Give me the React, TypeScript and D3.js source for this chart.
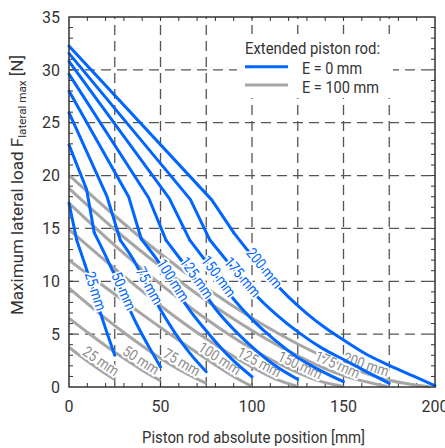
import * as d3 from "d3";

const WIDTH = 445;
const HEIGHT = 448;
const MARGIN = { top: 17, right: 10, bottom: 61, left: 69 };
const BLUE = "#0066ff";
const GRAY = "#a6a6a6";
const INK = "#333333";
const FONT = "Roboto, 'Liberation Sans', sans-serif";

type Pt = [number, number];

const STROKE_LABELS = ["25 mm", "50 mm", "75 mm", "100 mm", "125 mm", "150 mm", "175 mm", "200 mm"];

// E = 0 mm (blue): start, two kinks, then the falling curve
const BLUE_25: Pt[] = [[0, 17.4], [4.2, 13.9], [8.7, 11.6], [13, 9.3], [17, 7.1], [21, 5.0], [25, 3.0]];
const BLUE_50: Pt[] = [[0, 22.9], [9.6, 18.7], [13.8, 14.6], [20.6, 12.2], [27, 9.8], [33, 7.4], [38, 5.6], [44, 3.7], [50, 1.9]];
const BLUE_75: Pt[] = [[0, 25.95], [20.8, 18.0], [28, 13.9], [35, 12.1], [42, 9.8], [50, 7.3], [58, 5.1], [66, 3.2], [75, 1.45]];
const BLUE_100: Pt[] = [[0, 28.0], [32.6, 18.0], [39.5, 14.0], [47, 12.3], [55, 10.3], [65, 7.5], [77, 4.9], [88, 2.8], [100, 0.97]];
const BLUE_125: Pt[] = [[0, 29.6], [43.5, 17.9], [53, 13.9], [60, 12.3], [68, 10.5], [80, 7.4], [92, 5.1], [100, 3.8], [112, 2.1], [125, 0.72]];
const BLUE_150: Pt[] = [[0, 30.8], [54.8, 17.85], [66, 13.9], [73, 12.3], [80, 10.6], [90, 8.3], [100, 6.4], [112, 4.5], [125, 2.8], [137, 1.6], [150, 0.5]];
const BLUE_175: Pt[] = [[0, 31.56], [66.3, 17.75], [77, 13.9], [85, 12.2], [93, 10.5], [101, 8.9], [113, 6.9], [126, 5.1], [138, 3.7], [150, 2.6], [162, 1.5], [175, 0.35]];
const BLUE_200: Pt[] = [[0, 32.26], [78, 17.7], [90, 14.6], [100, 12.4], [110, 10.3], [120, 8.5], [130, 6.95], [140, 5.6], [150, 4.45], [162, 3.15], [175, 2.05], [188, 1.05], [200, 0.13]];

// E = 100 mm (gray)
const GRAY_25: Pt[] = [[0, 3.76], [5, 3.09], [10, 2.45], [15, 1.84], [20, 1.26], [25, 0.72]];
const GRAY_50: Pt[] = [[0, 6.5], [10, 5.18], [20, 3.91], [30, 2.71], [40, 1.59], [50, 0.6]];
const GRAY_75: Pt[] = [[0, 9.35], [15, 7.18], [30, 5.15], [45, 3.29], [60, 1.66], [75, 0.35]];
const GRAY_100: Pt[] = [[0, 12.0], [20, 9.41], [40, 6.87], [60, 4.42], [80, 2.09], [90, 1.0], [100, 0.05]];
const GRAY_125: Pt[] = [[0, 14.9], [25, 11.2], [50, 7.69], [75, 4.56], [100, 1.88], [112, 0.82], [125, 0.05]];
const GRAY_150: Pt[] = [[0, 17.4], [25, 13.4], [50, 9.73], [75, 6.43], [100, 3.6], [125, 1.36], [137, 0.55], [150, 0.05]];
const GRAY_175: Pt[] = [[0, 18.8], [25, 14.9], [50, 11.4], [75, 8.18], [100, 5.34], [125, 2.94], [150, 1.07], [174, 0.05]];
const GRAY_200: Pt[] = [[0, 20.05], [25, 16.2], [50, 12.6], [75, 9.37], [100, 6.52], [125, 4.07], [150, 2.07], [175, 0.64], [197, 0.02]];

const BLUE_CURVES = [BLUE_25, BLUE_50, BLUE_75, BLUE_100, BLUE_125, BLUE_150, BLUE_175, BLUE_200];
const GRAY_CURVES = [GRAY_25, GRAY_50, GRAY_75, GRAY_100, GRAY_125, GRAY_150, GRAY_175, GRAY_200];

// where the in-line labels sit (x position along each curve)
const BLUE_LABEL_X = [13.5, 29, 43, 56, 69, 81, 94, 106];
const GRAY_LABEL_X = [15, 37, 59.5, 80, 102, 124.5, 145, 161];

const X_TICKS = [0, 50, 100, 150, 200];
const Y_TICKS = [0, 5, 10, 15, 20, 25, 30, 35];
const X_GRID = [25, 50, 75, 100, 125, 150, 175];
const Y_GRID = [5, 10, 15, 20, 25, 30];

const x = d3.scaleLinear().domain([0, 200]).range([MARGIN.left, WIDTH - MARGIN.right]);
const y = d3.scaleLinear().domain([0, 35]).range([HEIGHT - MARGIN.bottom, MARGIN.top]);

const X_MINOR = d3.range(10, 200, 10);
const Y_MINOR = d3.range(1, 35, 1);

const straight = d3.line<Pt>().x((d) => x(d[0])).y((d) => y(d[1])).curve(d3.curveLinear);
const smooth = d3.line<Pt>().x((d) => x(d[0])).y((d) => y(d[1])).curve(d3.curveMonotoneX);

function yAt(pts: Pt[], xv: number) {
  for (let i = 1; i < pts.length; i++) {
    if (xv <= pts[i][0]) {
      const [x0, y0] = pts[i - 1];
      const [x1, y1] = pts[i];
      return y0 + ((y1 - y0) * (xv - x0)) / (x1 - x0);
    }
  }
  return pts[pts.length - 1][1];
}

function labelPose(pts: Pt[], xv: number, offset: number) {
  const a = xv - 3;
  const b = xv + 3;
  const ang = Math.atan2(y(yAt(pts, b)) - y(yAt(pts, a)), x(b) - x(a));
  const cx = x(xv);
  const cy = y(yAt(pts, xv));
  return {
    tx: cx + Math.sin(ang) * offset,
    ty: cy - Math.cos(ang) * offset,
    deg: (ang * 180) / Math.PI,
  };
}

function CurveLabel({ pts, at, text, color, offset }: { pts: Pt[]; at: number; text: string; color: string; offset: number }) {
  const p = labelPose(pts, at, offset);
  return (
    <text
      transform={`translate(${p.tx},${p.ty}) rotate(${p.deg}) scale(0.85,1)`}
      textAnchor="middle"
      dominantBaseline="central"
      fontSize={15}
      fill={color}
      stroke="white"
      strokeWidth={4}
      paintOrder="stroke"
      strokeLinejoin="round"
    >
      {text}
    </text>
  );
}

export default function App() {
  const x0 = x(0);
  const x1 = x(200);
  const y0 = y(0);
  const y1 = y(35);

  return (
    <svg width={WIDTH} height={HEIGHT} style={{ position: "absolute", left: 0, top: 0, background: "white" }} fontFamily={FONT}>
      {/* grid */}
      <g stroke="#555555" strokeWidth={1.3} strokeDasharray="10,6">
        {X_GRID.map((v) => (
          <line key={"gx" + v} x1={x(v)} x2={x(v)} y1={y0} y2={y1} />
        ))}
        {Y_GRID.map((v) => (
          <line key={"gy" + v} x1={x0} x2={x1} y1={y(v)} y2={y(v)} />
        ))}
      </g>

      {/* legend background */}
      <rect x={237} y={34} width={156} height={64} fill="white" />

      {/* minor ticks on all sides */}
      <g stroke={INK} strokeWidth={1}>
        {X_MINOR.map((v) => (
          <g key={"mx" + v}>
            <line x1={x(v)} x2={x(v)} y1={y0} y2={y0 - 4} />
            <line x1={x(v)} x2={x(v)} y1={y1} y2={y1 + 4} />
          </g>
        ))}
        {Y_MINOR.map((v) => (
          <g key={"my" + v}>
            <line x1={x0} x2={x0 + 4} y1={y(v)} y2={y(v)} />
            <line x1={x1} x2={x1 - 4} y1={y(v)} y2={y(v)} />
          </g>
        ))}
      </g>

      {/* E = 100 mm curves */}
      <g fill="none" stroke={GRAY} strokeWidth={3}>
        {GRAY_CURVES.map((c, i) => (
          <path key={"g" + i} d={smooth(c) ?? ""} />
        ))}
      </g>
      {GRAY_CURVES.map((c, i) => (
        <CurveLabel key={"gl" + i} pts={c} at={GRAY_LABEL_X[i]} text={STROKE_LABELS[i]} color="#8c8c8c" offset={8} />
      ))}

      {/* E = 0 mm curves: straight guide part, then smooth fall-off */}
      <g fill="none" stroke={BLUE} strokeWidth={3} strokeLinejoin="round" strokeLinecap="round">
        {BLUE_CURVES.map((c, i) => (
          <g key={"b" + i}>
            <path d={straight(c.slice(0, 3)) ?? ""} />
            <path d={smooth(c.slice(2)) ?? ""} />
          </g>
        ))}
      </g>
      {BLUE_CURVES.map((c, i) => (
        <CurveLabel key={"bl" + i} pts={c} at={BLUE_LABEL_X[i]} text={STROKE_LABELS[i]} color={BLUE} offset={2} />
      ))}

      {/* frame */}
      <rect x={x0} y={y1} width={x1 - x0} height={y0 - y1} fill="none" stroke={INK} strokeWidth={1.5} />

      {/* tick labels */}
      <g fontSize={16} fill={INK}>
        {X_TICKS.map((v) => (
          <text key={"tx" + v} x={x(v)} y={412} textAnchor="middle">
            {v}
          </text>
        ))}
        {Y_TICKS.map((v) => (
          <text key={"ty" + v} x={60} y={y(v)} dy="0.36em" textAnchor="end">
            {v}
          </text>
        ))}
      </g>

      {/* axis titles */}
      <text x={253.5} y={443} textAnchor="middle" fontSize={16} fill={INK} textLength={223} lengthAdjust="spacingAndGlyphs">
        Piston rod absolute position [mm]
      </text>
      <text transform="translate(23,185) rotate(-90)" textAnchor="middle" fontSize={16} fill={INK} textLength={260} lengthAdjust="spacingAndGlyphs">
        Maximum lateral load F
        <tspan fontSize={11} dy={3}>lateral max</tspan>
        <tspan dy={-3}> [N]</tspan>
      </text>

      {/* legend */}
      <g fontSize={16} fill={INK}>
        <text x={245} y={54} textLength={135} lengthAdjust="spacingAndGlyphs">
          Extended piston rod:
        </text>
        <line x1={245} x2={288} y1={66.7} y2={66.7} stroke={BLUE} strokeWidth={3} />
        <text x={302} y={74} textLength={60} lengthAdjust="spacingAndGlyphs">
          E = 0 mm
        </text>
        <line x1={245} x2={288} y1={85} y2={85} stroke={GRAY} strokeWidth={3} />
        <text x={302} y={93} textLength={77} lengthAdjust="spacingAndGlyphs">
          E = 100 mm
        </text>
      </g>
    </svg>
  );
}
